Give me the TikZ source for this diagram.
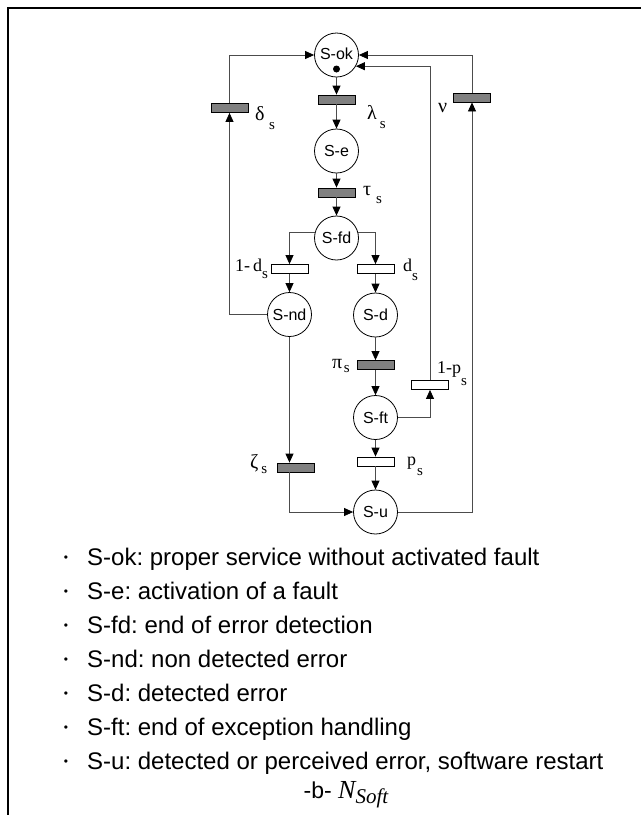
\documentclass[tikz,border=0pt]{standalone}
\usepackage{fontspec}
\setmainfont{Liberation Sans}
\newfontfamily\serif{Liberation Serif}
\usetikzlibrary{arrows.meta}
\definecolor{ln}{gray}{0.3}
\definecolor{tfill}{gray}{0.5}
\frenchspacing
\newcommand\subs[2]{\kern#1\raisebox{-#2}{\fontsize{15}{15}\selectfont s}}
\tikzset{
 place/.style={circle, draw=black, line width=0.8pt, minimum size=44pt, inner sep=0pt, font=\fontsize{16}{16}\selectfont},
 trans/.style={rectangle, draw=black, line width=0.8pt, minimum width=37pt, minimum height=9pt, inner sep=0pt, fill=tfill},
 wtrans/.style={trans, fill=white},
 arc/.style={draw=ln, line width=0.8pt, -{Triangle[length=9pt,width=8pt,color=black]}},
 lbl/.style={anchor=base west, inner sep=0pt, font=\serif\fontsize{20}{20}\selectfont},
 llbl/.style={anchor=base west, inner sep=0pt, font=\serif\fontsize{18}{18}\selectfont},
 legend/.style={anchor=base west, inner sep=0pt, font=\fontsize{24}{28}\selectfont},
 bul/.style={anchor=base, inner sep=0pt, font=\fontsize{12}{12}\selectfont},
}
\begin{document}
\begin{tikzpicture}[x=1pt,y=1pt]
\useasboundingbox (0,0) rectangle (641,-815);
\draw[line width=2pt] (8,-815) -- (8,-8) -- (641,-8);
% places and transitions
\node[place] (ok) at (336.5,-55) {\raisebox{2pt}{S-ok}};
\fill (336.5,-69) circle (3.5);
\node[trans] (lam) at (336.5,-99.5) {};
\node[place] (e) at (336.5,-151) {S-e};
\node[trans] (tau) at (336.5,-192.5) {};
\node[place] (fd) at (336.5,-238) {S-fd};
\node[wtrans] (t1d) at (289.5,-269) {};
\node[wtrans] (td) at (375.5,-269) {};
\node[place] (nd) at (289.5,-314.5) {S-nd};
\node[place] (d) at (375.5,-315) {S-d};
\node[trans] (pi) at (375.5,-365) {};
\node[place] (ft) at (375.5,-417.5) {S-ft};
\node[wtrans] (t1p) at (430,-385) {};
\node[wtrans] (tp) at (375.5,-461.5) {};
\node[trans] (zeta) at (295.5,-467.5) {};
\node[place] (u) at (375.5,-512) {S-u};
\node[trans] (delta) at (229.5,-108) {};
\node[trans] (nu) at (472,-97.5) {};
% arcs
\draw[arc] (ok) -- (lam);
\draw[arc] (lam) -- (e);
\draw[arc] (e) -- (tau);
\draw[arc] (tau) -- (fd);
\draw[arc] (fd.165) -| (t1d);
\draw[arc] (fd.15) -| (td);
\draw[arc] (t1d) -- (nd);
\draw[arc] (td) -- (d);
\draw[arc] (nd.west) -| (delta);
\draw[arc] (delta) |- (ok);
\draw[arc] (d) -- (pi);
\draw[arc] (pi) -- (ft);
\draw[arc] (ft) -| (t1p);
\draw[arc] (t1p) |- (ok.-30);
\draw[arc] (ft) -- (tp);
\draw[arc] (tp) -- (u);
\draw[arc] (nd.south) -- (nd.south |- zeta.north);
\draw[arc] (nd.south |- zeta.south) |- (u);
\draw[arc] (u) -| (nu);
\draw[arc] (nu) |- (ok);
% labels
\node[lbl] (llam) at (367,-119) {λ\subs{3pt}{9pt}};
\node[lbl] (ldelta) at (255,-120) {δ\subs{4.5pt}{9pt}};
\node[lbl] (ltau) at (363,-195) {τ\subs{5pt}{8pt}};
\node[lbl] (lnu) at (438,-112) {ν};
\node[llbl] (l1d) at (235,-271) {1-\kern3pt d\subs{0pt}{7pt}};
\node[llbl] (ld) at (403,-271) {d\subs{0pt}{9pt}};
\node[lbl] (lpi) at (332,-368) {π\subs{1.5pt}{4pt}};
\node[llbl] (l1p) at (437,-373) {1-p\subs{0pt}{12pt}};
\node[llbl] (lp) at (407,-465) {p\subs{1pt}{10pt}};
\node[lbl] (lzeta) at (250,-468) {ζ\subs{3pt}{5pt}};
% legend
\node[bul] (b1) at (66,-561) {•};
\node[bul] (b2) at (66,-595) {•};
\node[bul] (b3) at (66,-629) {•};
\node[bul] (b4) at (66,-663) {•};
\node[bul] (b5) at (66,-697) {•};
\node[bul] (b6) at (66,-731) {•};
\node[bul] (b7) at (66,-765) {•};
\node[legend] (g1) at (87,-565) {S-ok: proper service without activated fault};
\node[legend] (g2) at (87,-599) {S-e: activation of a fault};
\node[legend] (g3) at (87,-633) {S-fd: end of error detection};
\node[legend] (g4) at (87,-667) {S-nd: non detected error};
\node[legend] (g5) at (87,-701) {S-d: detected error};
\node[legend] (g6) at (87,-735) {S-ft: end of exception handling};
\node[legend] (g7) at (87,-769) {S-u: detected or perceived error, software restart};
\node[anchor=base, inner sep=0pt, font=\fontsize{23}{23}\selectfont] (cap) at (346,-798)
  {-b- {\serif\itshape\fontsize{26}{26}\selectfont N\raisebox{-5pt}{\fontsize{21}{21}\selectfont Soft}}};
\end{tikzpicture}
\end{document}
